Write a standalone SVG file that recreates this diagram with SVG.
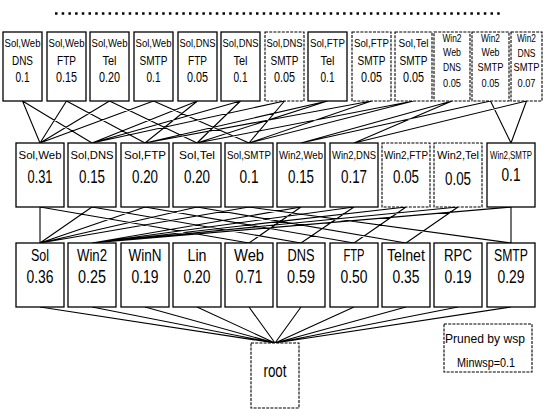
<svg xmlns="http://www.w3.org/2000/svg" width="543" height="409" viewBox="0 0 543 409">
<style>
.b{fill:#fff;stroke:#000;stroke-width:1.3}
.p{stroke-dasharray:3 1.2;stroke-width:1.1}
text{font-family:"Liberation Sans",Arial,sans-serif;fill:#000;text-anchor:middle}
.s1{font-size:10px}
.s2{font-size:12.5px}
.s3{font-size:14.5px}
.s4{font-size:11px}
.m1{font-size:11px}
.m2{font-size:17.5px}
.c{stroke:#000;stroke-width:1.1;fill:none}
</style>
<rect width="543" height="409" fill="#fff"/>
<line x1="55" y1="13.5" x2="503" y2="13.5" stroke="#000" stroke-width="2.5" stroke-dasharray="2.5 4.2"/>
<g id="connectors" class="c">
<path d="M22.5 101L40 143M22.5 101L92 143M66.5 101L40 143M66.5 101L145 143M109.5 101L40 143M109.5 101L197 143M153.5 101L40 143M153.5 101L249 143M197.5 101L92 143M197.5 101L145 143M240.5 101L92 143M240.5 101L197 143M284.5 101L92 143M284.5 101L249 143M327.5 101L145 143M327.5 101L197 143M371.5 101L145 143M371.5 101L249 143M413.5 101L197 143M413.5 101L249 143M452 101L301 143M452 101L354 143M490.5 101L301 143M490.5 101L511 143M526.5 101L354 143M526.5 101L511 143"/>
<path d="M40 207L40 243M40 207L249 243M92 207L40 243M92 207L301 243M145 207L40 243M145 207L354 243M197 207L40 243M197 207L406 243M249 207L40 243M249 207L511 243M301 207L92 243M301 207L249 243M354 207L92 243M354 207L301 243M406 207L92 243M406 207L354 243M458 207L92 243M458 207L406 243M511 207L92 243M511 207L511 243"/>
<path d="M40 307L275 343M92 307L275 343M145 307L275 343M197 307L275 343M249 307L275 343M301 307L275 343M354 307L275 343M406 307L275 343M458 307L275 343M511 307L275 343"/>
</g>
<g id="t1"><rect class="b" x="3" y="32" width="39" height="69"/><text class="s1" x="22.5" y="47" textLength="36" lengthAdjust="spacingAndGlyphs">Sol,Web</text><text class="s2" x="22.5" y="65" textLength="21" lengthAdjust="spacingAndGlyphs">DNS</text><text class="s3" x="22.5" y="82" textLength="14" lengthAdjust="spacingAndGlyphs">0.1</text></g>
<g id="t2"><rect class="b" x="47" y="32" width="39" height="69"/><text class="s1" x="66.5" y="47" textLength="36" lengthAdjust="spacingAndGlyphs">Sol,Web</text><text class="s2" x="66.5" y="65" textLength="19" lengthAdjust="spacingAndGlyphs">FTP</text><text class="s3" x="66.5" y="82" textLength="21" lengthAdjust="spacingAndGlyphs">0.15</text></g>
<g id="t3"><rect class="b" x="90" y="32" width="39" height="69"/><text class="s1" x="109.5" y="47" textLength="36" lengthAdjust="spacingAndGlyphs">Sol,Web</text><text class="s2" x="109.5" y="65" textLength="14" lengthAdjust="spacingAndGlyphs">Tel</text><text class="s3" x="109.5" y="82" textLength="21" lengthAdjust="spacingAndGlyphs">0.20</text></g>
<g id="t4"><rect class="b" x="134" y="32" width="39" height="69"/><text class="s1" x="153.5" y="47" textLength="36" lengthAdjust="spacingAndGlyphs">Sol,Web</text><text class="s2" x="153.5" y="65" textLength="28" lengthAdjust="spacingAndGlyphs">SMTP</text><text class="s3" x="153.5" y="82" textLength="14" lengthAdjust="spacingAndGlyphs">0.1</text></g>
<g id="t5"><rect class="b" x="178" y="32" width="39" height="69"/><text class="s1" x="197.5" y="47" textLength="36" lengthAdjust="spacingAndGlyphs">Sol,DNS</text><text class="s2" x="197.5" y="65" textLength="19" lengthAdjust="spacingAndGlyphs">FTP</text><text class="s3" x="197.5" y="82" textLength="21" lengthAdjust="spacingAndGlyphs">0.05</text></g>
<g id="t6"><rect class="b" x="221" y="32" width="39" height="69"/><text class="s1" x="240.5" y="47" textLength="36" lengthAdjust="spacingAndGlyphs">Sol,DNS</text><text class="s2" x="240.5" y="65" textLength="14" lengthAdjust="spacingAndGlyphs">Tel</text><text class="s3" x="240.5" y="82" textLength="14" lengthAdjust="spacingAndGlyphs">0.1</text></g>
<g id="t7"><rect class="b p" x="265" y="32" width="39" height="69"/><text class="s1" x="284.5" y="47" textLength="36" lengthAdjust="spacingAndGlyphs">Sol,DNS</text><text class="s2" x="284.5" y="65" textLength="28" lengthAdjust="spacingAndGlyphs">SMTP</text><text class="s3" x="284.5" y="82" textLength="21" lengthAdjust="spacingAndGlyphs">0.05</text></g>
<g id="t8"><rect class="b" x="308" y="32" width="39" height="69"/><text class="s1" x="327.5" y="47" textLength="35" lengthAdjust="spacingAndGlyphs">Sol,FTP</text><text class="s2" x="327.5" y="65" textLength="14" lengthAdjust="spacingAndGlyphs">Tel</text><text class="s3" x="327.5" y="82" textLength="14" lengthAdjust="spacingAndGlyphs">0.1</text></g>
<g id="t9"><rect class="b p" x="352" y="32" width="39" height="69"/><text class="s1" x="371.5" y="47" textLength="35" lengthAdjust="spacingAndGlyphs">Sol,FTP</text><text class="s2" x="371.5" y="65" textLength="28" lengthAdjust="spacingAndGlyphs">SMTP</text><text class="s3" x="371.5" y="82" textLength="21" lengthAdjust="spacingAndGlyphs">0.05</text></g>
<g id="t10"><rect class="b p" x="395" y="32" width="37" height="69"/><text class="s1" x="413.5" y="47">Sol,Tel</text><text class="s2" x="413.5" y="65" textLength="28" lengthAdjust="spacingAndGlyphs">SMTP</text><text class="s3" x="413.5" y="82" textLength="21" lengthAdjust="spacingAndGlyphs">0.05</text></g>
<g id="t11"><rect class="b p" x="434" y="32" width="36" height="69"/><text class="s4" x="452" y="42" textLength="19" lengthAdjust="spacingAndGlyphs">Win2</text><text class="s4" x="452" y="56" textLength="18" lengthAdjust="spacingAndGlyphs">Web</text><text class="s4" x="452" y="71" textLength="18" lengthAdjust="spacingAndGlyphs">DNS</text><text class="s4" x="452" y="87" textLength="18" lengthAdjust="spacingAndGlyphs">0.05</text></g>
<g id="t12"><rect class="b p" x="472" y="32" width="37" height="69"/><text class="s4" x="490.5" y="42" textLength="19" lengthAdjust="spacingAndGlyphs">Win2</text><text class="s4" x="490.5" y="56" textLength="18" lengthAdjust="spacingAndGlyphs">Web</text><text class="s4" x="490.5" y="71" textLength="26" lengthAdjust="spacingAndGlyphs">SMTP</text><text class="s4" x="490.5" y="87" textLength="18" lengthAdjust="spacingAndGlyphs">0.05</text></g>
<g id="t13"><rect class="b p" x="511" y="32" width="31" height="69"/><text class="s4" x="526.5" y="42" textLength="19" lengthAdjust="spacingAndGlyphs">Win2</text><text class="s4" x="526.5" y="57" textLength="18" lengthAdjust="spacingAndGlyphs">DNS</text><text class="s4" x="526.5" y="71" textLength="26" lengthAdjust="spacingAndGlyphs">SMTP</text><text class="s4" x="526.5" y="87" textLength="18" lengthAdjust="spacingAndGlyphs">0.07</text></g>
<g id="m1"><rect class="b" x="16" y="143" width="48" height="64"/><text class="m1" x="40" y="159" textLength="43" lengthAdjust="spacingAndGlyphs">Sol,Web</text><text class="m2" x="40" y="183" textLength="25" lengthAdjust="spacingAndGlyphs">0.31</text></g>
<g id="m2"><rect class="b" x="68" y="143" width="48" height="64"/><text class="m1" x="92" y="159" textLength="43" lengthAdjust="spacingAndGlyphs">Sol,DNS</text><text class="m2" x="92" y="183" textLength="26" lengthAdjust="spacingAndGlyphs">0.15</text></g>
<g id="m3"><rect class="b" x="121" y="143" width="48" height="64"/><text class="m1" x="145" y="159" textLength="42" lengthAdjust="spacingAndGlyphs">Sol,FTP</text><text class="m2" x="145" y="183" textLength="26" lengthAdjust="spacingAndGlyphs">0.20</text></g>
<g id="m4"><rect class="b" x="173" y="143" width="48" height="64"/><text class="m1" x="197" y="159" textLength="36" lengthAdjust="spacingAndGlyphs">Sol,Tel</text><text class="m2" x="197" y="183" textLength="26" lengthAdjust="spacingAndGlyphs">0.20</text></g>
<g id="m5"><rect class="b" x="225" y="143" width="48" height="64"/><text class="m1" x="249" y="159" textLength="44" lengthAdjust="spacingAndGlyphs">Sol,SMTP</text><text class="m2" x="249" y="183" textLength="19" lengthAdjust="spacingAndGlyphs">0.1</text></g>
<g id="m6"><rect class="b" x="277" y="143" width="48" height="64"/><text class="m1" x="301" y="159" textLength="44" lengthAdjust="spacingAndGlyphs">Win2,Web</text><text class="m2" x="301" y="183" textLength="26" lengthAdjust="spacingAndGlyphs">0.15</text></g>
<g id="m7"><rect class="b" x="330" y="143" width="48" height="64"/><text class="m1" x="354" y="159" textLength="44" lengthAdjust="spacingAndGlyphs">Win2,DNS</text><text class="m2" x="354" y="183" textLength="26" lengthAdjust="spacingAndGlyphs">0.17</text></g>
<g id="m8"><rect class="b p" x="382" y="143" width="48" height="64"/><text class="m1" x="406" y="159" textLength="44" lengthAdjust="spacingAndGlyphs">Win2,FTP</text><text class="m2" x="406" y="183" textLength="26" lengthAdjust="spacingAndGlyphs">0.05</text></g>
<g id="m9"><rect class="b p" x="434" y="143" width="48" height="64"/><text class="m1" x="458" y="159" textLength="42" lengthAdjust="spacingAndGlyphs">Win2,Tel</text><text class="m2" x="458" y="185" textLength="26" lengthAdjust="spacingAndGlyphs">0.05</text></g>
<g id="m10"><rect class="b" x="487" y="143" width="48" height="64"/><text class="m1" x="511" y="159" textLength="42" lengthAdjust="spacingAndGlyphs">Win2,SMTP</text><text class="m2" x="511" y="181" textLength="19" lengthAdjust="spacingAndGlyphs">0.1</text></g>
<g id="b1"><rect class="b" x="16" y="243" width="48" height="64"/><text class="m2" x="40" y="261" textLength="18" lengthAdjust="spacingAndGlyphs" style="font-size:16px">Sol</text><text class="m2" x="40" y="283" textLength="27" lengthAdjust="spacingAndGlyphs">0.36</text></g>
<g id="b2"><rect class="b" x="68" y="243" width="48" height="64"/><text class="m2" x="92" y="261" textLength="30" lengthAdjust="spacingAndGlyphs" style="font-size:16px">Win2</text><text class="m2" x="92" y="283" textLength="28" lengthAdjust="spacingAndGlyphs">0.25</text></g>
<g id="b3"><rect class="b" x="121" y="243" width="48" height="64"/><text class="m2" x="145" y="261" textLength="33" lengthAdjust="spacingAndGlyphs" style="font-size:16px">WinN</text><text class="m2" x="145" y="283" textLength="27" lengthAdjust="spacingAndGlyphs">0.19</text></g>
<g id="b4"><rect class="b" x="173" y="243" width="48" height="64"/><text class="m2" x="197" y="261" textLength="19" lengthAdjust="spacingAndGlyphs" style="font-size:16px">Lin</text><text class="m2" x="197" y="283" textLength="27" lengthAdjust="spacingAndGlyphs">0.20</text></g>
<g id="b5"><rect class="b" x="225" y="243" width="48" height="64"/><text class="m2" x="249" y="261" textLength="30" lengthAdjust="spacingAndGlyphs" style="font-size:16px">Web</text><text class="m2" x="249" y="283" textLength="27" lengthAdjust="spacingAndGlyphs">0.71</text></g>
<g id="b6"><rect class="b" x="277" y="243" width="48" height="64"/><text class="m2" x="301" y="261" textLength="27" lengthAdjust="spacingAndGlyphs" style="font-size:16px">DNS</text><text class="m2" x="301" y="283" textLength="28" lengthAdjust="spacingAndGlyphs">0.59</text></g>
<g id="b7"><rect class="b" x="330" y="243" width="48" height="64"/><text class="m2" x="354" y="261" textLength="21" lengthAdjust="spacingAndGlyphs" style="font-size:16px">FTP</text><text class="m2" x="354" y="283" textLength="27" lengthAdjust="spacingAndGlyphs">0.50</text></g>
<g id="b8"><rect class="b" x="382" y="243" width="48" height="64"/><text class="m2" x="406" y="261" textLength="38" lengthAdjust="spacingAndGlyphs" style="font-size:16px">Telnet</text><text class="m2" x="406" y="283" textLength="27" lengthAdjust="spacingAndGlyphs">0.35</text></g>
<g id="b9"><rect class="b" x="434" y="243" width="48" height="64"/><text class="m2" x="458" y="261" textLength="28" lengthAdjust="spacingAndGlyphs" style="font-size:16px">RPC</text><text class="m2" x="458" y="283" textLength="27" lengthAdjust="spacingAndGlyphs">0.19</text></g>
<g id="b10"><rect class="b" x="487" y="243" width="48" height="64"/><text class="m2" x="511" y="261" textLength="34" lengthAdjust="spacingAndGlyphs" style="font-size:16px">SMTP</text><text class="m2" x="511" y="283" textLength="27" lengthAdjust="spacingAndGlyphs">0.29</text></g>
<g id="root"><rect class="b p" x="251" y="343" width="48" height="65"/><text x="275" y="377" style="font-size:19px" textLength="23" lengthAdjust="spacingAndGlyphs">root</text></g>
<g id="legend"><rect class="b p" x="444" y="324" width="88" height="48"/><text x="485" y="343" style="font-size:12px" textLength="80" lengthAdjust="spacingAndGlyphs">Pruned by wsp</text><text x="486" y="367" style="font-size:12px" textLength="58" lengthAdjust="spacingAndGlyphs">Minwsp=0.1</text></g>
</svg>
